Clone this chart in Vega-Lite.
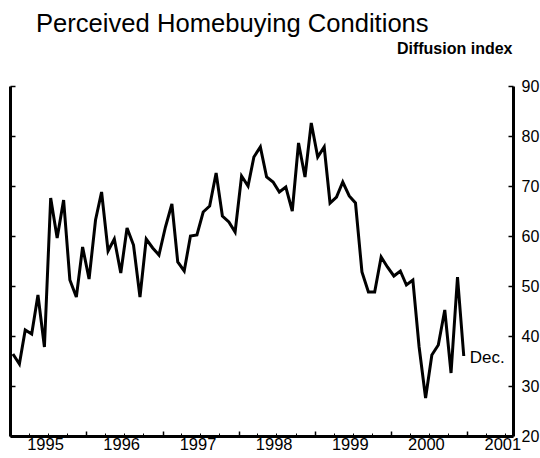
{
  "$schema": "https://vega.github.io/schema/vega-lite/v6.json",
  "width": 503,
  "height": 350,
  "autosize": {"type": "none"},
  "padding": {"left": 10, "top": 86, "right": 27, "bottom": 22},
  "background": "white",
  "config": {
    "font": "Liberation Sans",
    "view": {"stroke": null},
    "axis": {
      "grid": false,
      "domainColor": "black",
      "tickColor": "black",
      "labelColor": "black",
      "domainWidth": 3,
      "tickWidth": 1.5,
      "labelFont": "Liberation Sans",
      "labelFontSize": 16.5
    }
  },
  "title": {
    "text": "Perceived Homebuying Conditions",
    "anchor": "start",
    "frame": "group",
    "fontSize": 25.6,
    "fontWeight": "normal",
    "font": "Liberation Sans",
    "color": "black",
    "dx": 26,
    "offset": 2
  },
  "data": {
    "values": [
      {"date": "1995-01-15", "index": 36.4},
      {"date": "1995-02-15", "index": 34.4},
      {"date": "1995-03-15", "index": 41.2},
      {"date": "1995-04-15", "index": 40.4},
      {"date": "1995-05-15", "index": 48.2},
      {"date": "1995-06-15", "index": 37.8},
      {"date": "1995-07-15", "index": 67.6},
      {"date": "1995-08-15", "index": 59.6},
      {"date": "1995-09-15", "index": 67.2},
      {"date": "1995-10-15", "index": 51.2},
      {"date": "1995-11-15", "index": 47.8},
      {"date": "1995-12-15", "index": 57.8},
      {"date": "1996-01-15", "index": 51.4},
      {"date": "1996-02-15", "index": 63.2},
      {"date": "1996-03-15", "index": 68.8},
      {"date": "1996-04-15", "index": 57.0},
      {"date": "1996-05-15", "index": 59.4},
      {"date": "1996-06-15", "index": 52.6},
      {"date": "1996-07-15", "index": 61.6},
      {"date": "1996-08-15", "index": 58.2},
      {"date": "1996-09-15", "index": 47.8},
      {"date": "1996-10-15", "index": 59.4},
      {"date": "1996-11-15", "index": 57.6},
      {"date": "1996-12-15", "index": 56.2},
      {"date": "1997-01-15", "index": 61.8},
      {"date": "1997-02-15", "index": 66.4},
      {"date": "1997-03-15", "index": 54.8},
      {"date": "1997-04-15", "index": 53.0},
      {"date": "1997-05-15", "index": 60.0},
      {"date": "1997-06-15", "index": 60.2},
      {"date": "1997-07-15", "index": 64.8},
      {"date": "1997-08-15", "index": 66.0},
      {"date": "1997-09-15", "index": 72.6},
      {"date": "1997-10-15", "index": 64.0},
      {"date": "1997-11-15", "index": 62.8},
      {"date": "1997-12-15", "index": 60.8},
      {"date": "1998-01-15", "index": 72.0},
      {"date": "1998-02-15", "index": 70.0},
      {"date": "1998-03-15", "index": 75.8},
      {"date": "1998-04-15", "index": 77.8},
      {"date": "1998-05-15", "index": 71.8},
      {"date": "1998-06-15", "index": 70.8},
      {"date": "1998-07-15", "index": 68.8},
      {"date": "1998-08-15", "index": 69.8},
      {"date": "1998-09-15", "index": 65.0},
      {"date": "1998-10-15", "index": 78.6},
      {"date": "1998-11-15", "index": 71.8},
      {"date": "1998-12-15", "index": 82.6},
      {"date": "1999-01-15", "index": 75.8},
      {"date": "1999-02-15", "index": 77.8},
      {"date": "1999-03-15", "index": 66.6},
      {"date": "1999-04-15", "index": 67.8},
      {"date": "1999-05-15", "index": 70.8},
      {"date": "1999-06-15", "index": 68.0},
      {"date": "1999-07-15", "index": 66.6},
      {"date": "1999-08-15", "index": 52.8},
      {"date": "1999-09-15", "index": 48.8},
      {"date": "1999-10-15", "index": 48.8},
      {"date": "1999-11-15", "index": 55.8},
      {"date": "1999-12-15", "index": 53.8},
      {"date": "2000-01-15", "index": 52.0},
      {"date": "2000-02-15", "index": 53.0},
      {"date": "2000-03-15", "index": 50.2},
      {"date": "2000-04-15", "index": 51.2},
      {"date": "2000-05-15", "index": 37.8},
      {"date": "2000-06-15", "index": 27.6},
      {"date": "2000-07-15", "index": 36.2},
      {"date": "2000-08-15", "index": 38.2},
      {"date": "2000-09-15", "index": 45.2},
      {"date": "2000-10-15", "index": 32.6},
      {"date": "2000-11-15", "index": 51.8},
      {"date": "2000-12-15", "index": 36.0, "label": "Dec."}
    ]
  },
  "layer": [
    {
      "mark": {"type": "line", "color": "black", "strokeWidth": 3, "strokeJoin": "miter"},
      "encoding": {
        "x": {
          "field": "date",
          "type": "temporal",
          "scale": {"domain": [{"year": 1995, "month": 1, "date": 1}, {"year": 2001, "month": 8, "date": 8}]},
          "axis": {
            "orient": "bottom",
            "title": null,
            "values": [
              {"year": 1995, "month": 1, "date": 1},
              {"year": 1996, "month": 1, "date": 1},
              {"year": 1997, "month": 1, "date": 1},
              {"year": 1998, "month": 1, "date": 1},
              {"year": 1999, "month": 1, "date": 1},
              {"year": 2000, "month": 1, "date": 1},
              {"year": 2001, "month": 1, "date": 1}
            ],
            "format": "%Y",
            "labelOffset": 35,
            "labelAlign": "center",
            "labelFlush": false,
            "tickSize": -5,
            "labelPadding": 5
          }
        },
        "y": {
          "field": "index",
          "type": "quantitative",
          "scale": {"domain": [20, 90]},
          "axis": {
            "orient": "right",
            "values": [20, 30, 40, 50, 60, 70, 80, 90],
            "tickSize": -5,
            "labelPadding": 13,
            "labelFontSize": 16,
            "labelBaseline": "middle",
            "title": "Diffusion index",
            "titleAngle": 0,
            "titleAlign": "right",
            "titleBaseline": "alphabetic",
            "titleX": -1,
            "titleY": -33,
            "titleFontSize": 16,
            "titleFontWeight": "bold",
            "titleColor": "black",
            "titleFont": "Liberation Sans"
          }
        }
      }
    },
    {
      "transform": [{"filter": "isValid(datum.label)"}],
      "mark": {"type": "text", "align": "left", "baseline": "middle", "dx": 6, "dy": 2, "fontSize": 17, "color": "black", "font": "Liberation Sans"},
      "encoding": {
        "x": {
          "field": "date",
          "type": "temporal",
          "axis": {
            "orient": "bottom",
            "title": null,
            "labels": false,
            "domain": false,
            "tickSize": -3,
            "tickWidth": 1,
            "values": [
              {"year": 1995, "month": 4, "date": 1}, {"year": 1995, "month": 7, "date": 1}, {"year": 1995, "month": 10, "date": 1},
              {"year": 1996, "month": 4, "date": 1}, {"year": 1996, "month": 7, "date": 1}, {"year": 1996, "month": 10, "date": 1},
              {"year": 1997, "month": 4, "date": 1}, {"year": 1997, "month": 7, "date": 1}, {"year": 1997, "month": 10, "date": 1},
              {"year": 1998, "month": 4, "date": 1}, {"year": 1998, "month": 7, "date": 1}, {"year": 1998, "month": 10, "date": 1},
              {"year": 1999, "month": 4, "date": 1}, {"year": 1999, "month": 7, "date": 1}, {"year": 1999, "month": 10, "date": 1},
              {"year": 2000, "month": 4, "date": 1}, {"year": 2000, "month": 7, "date": 1}, {"year": 2000, "month": 10, "date": 1},
              {"year": 2001, "month": 4, "date": 1}, {"year": 2001, "month": 7, "date": 1}
            ]
          }
        },
        "y": {
          "field": "index",
          "type": "quantitative",
          "axis": {
            "orient": "left",
            "title": null,
            "labels": false,
            "tickSize": -5,
            "values": [20, 30, 40, 50, 60, 70, 80, 90]
          }
        },
        "text": {"field": "label"}
      }
    }
  ],
  "resolve": {"axis": {"x": "independent", "y": "independent"}}
}
